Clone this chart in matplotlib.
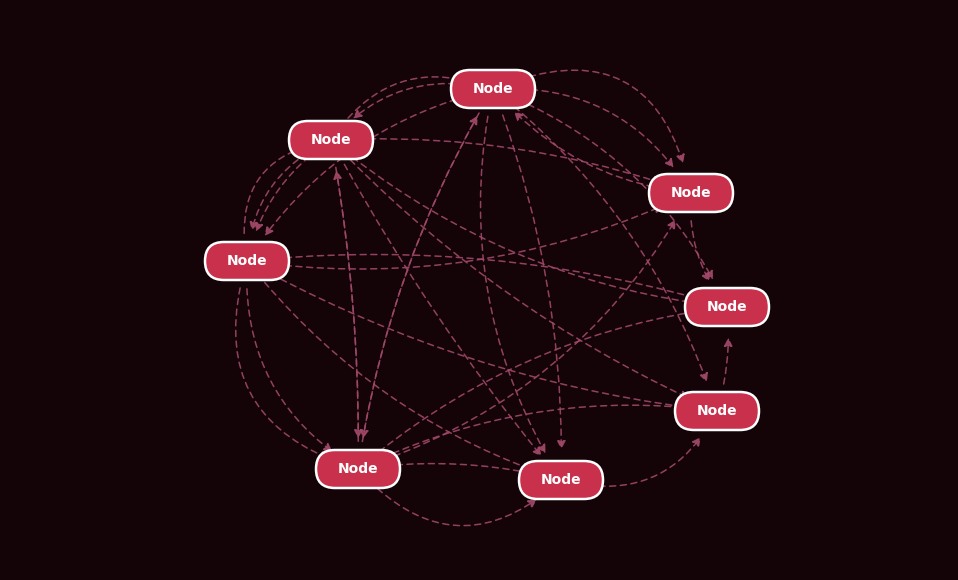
import matplotlib
matplotlib.use("Agg")
import matplotlib.pyplot as plt
from matplotlib.patches import FancyArrowPatch, FancyBboxPatch

# nodes (pixel positions)
node_names = ["A", "B", "C", "D", "E", "F", "G", "H"]
node_x = [493, 331, 691, 247, 727, 717, 358, 561]
node_y = [89, 140, 193, 261, 307, 411, 469, 480]

# edges: source, target, curvature
edge_src = ["A", "A", "A", "A", "A", "A", "A", "B", "B", "B", "B", "B", "B", "B",
            "D", "D", "D", "D", "D", "D", "G", "G", "G", "G", "G", "G", "H", "F",
            "C", "A", "D", "B", "G", "A", "C"]
edge_dst = ["B", "C", "D", "G", "H", "E", "F", "A", "C", "D", "E", "F", "H", "G",
            "B", "C", "E", "F", "G", "H", "A", "B", "C", "E", "F", "H", "F", "E",
            "E", "C", "G", "D", "H", "H", "A"]
edge_rad = [0.3, -0.3, 0.2, 0.1, -0.1, -0.2, -0.15, -0.4, -0.1, 0.2, 0.15, 0.1, 0.05, -0.05,
            -0.5, 0.15, -0.1, 0.1, 0.3, 0.15, -0.1, 0.05, 0.2, -0.15, -0.15, -0.1, 0.4, 0.1,
            0.2, -0.6, 0.5, 0.3, 0.5, 0.2, -0.2]

bg = "#140408"
fig = plt.figure(figsize=(9.58, 5.8), dpi=100, facecolor=bg)
ax = fig.add_axes([0, 0, 1, 1])
ax.set_facecolor(bg)
ax.set_xlim(0, 958)
ax.set_ylim(580, 0)
ax.axis("off")

pos = {n: (x, y) for n, x, y in zip(node_names, node_x, node_y)}

for s, d, r in zip(edge_src, edge_dst, edge_rad):
    a = FancyArrowPatch(pos[s], pos[d], connectionstyle=f"arc3,rad={r}",
                        arrowstyle="-|>,head_length=5,head_width=2.5",
                        color="#a04868", lw=1.1, linestyle=(0, (4, 3)),
                        shrinkA=20, shrinkB=22, alpha=0.9, zorder=1)
    ax.add_patch(a)

w, h = 84, 38
for n in node_names:
    x, y = pos[n]
    box = FancyBboxPatch((x - w / 2, y - h / 2), w, h,
                         boxstyle="round,pad=0,rounding_size=19",
                         fc="#c8304b", ec="white", lw=1.8, zorder=3)
    ax.add_patch(box)
    ax.text(x, y, "Node", color="white", fontsize=10, fontweight="bold",
            ha="center", va="center", zorder=4)

fig.savefig("out.png", dpi=100, facecolor=bg)
